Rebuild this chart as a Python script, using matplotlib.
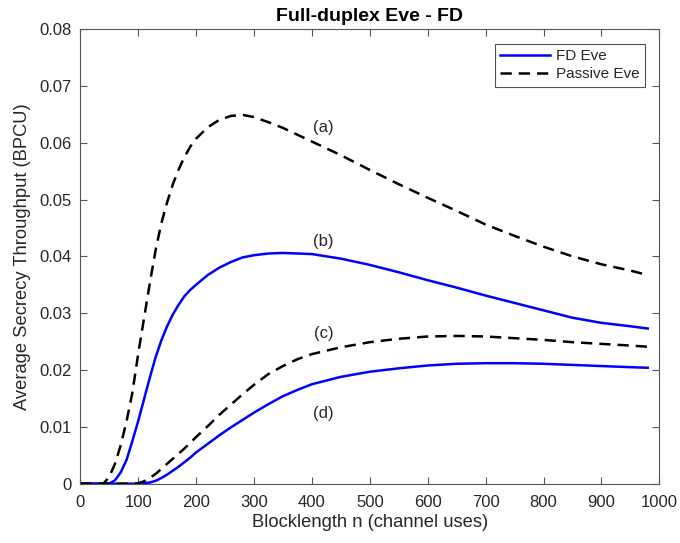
import matplotlib
matplotlib.use("Agg")
import matplotlib.pyplot as plt

plt.rcParams['font.family'] = ['Liberation Sans', 'DejaVu Sans']

# Blocklength samples (channel uses)
n = [0, 20, 40,
     50, 60, 70, 80, 90, 100, 110, 120, 130, 140, 150, 160, 170, 180, 190, 200,
     220, 240, 260, 280, 300,
     325, 350, 375, 400,
     450, 500, 550, 600, 650, 700, 750, 800, 850, 900, 950,
     980]

# (a) Passive Eve, upper case
passive_a = [0, 0, 0,
             0.0012, 0.0035, 0.0068, 0.011, 0.016, 0.0228, 0.029, 0.0352,
             0.041, 0.0458, 0.0495, 0.0527, 0.0553, 0.0575, 0.0593, 0.0607,
             0.0627, 0.064, 0.0647, 0.0649, 0.0645,
             0.0636, 0.0626, 0.0614, 0.0602,
             0.0578, 0.0552, 0.0527, 0.0503, 0.048, 0.0456, 0.0436, 0.0417,
             0.04, 0.0386, 0.0375,
             0.0367]
# (b) FD Eve, upper case
fd_b = [0, 0, 0,
        0, 0.0006, 0.002, 0.0042, 0.0075, 0.011, 0.0148, 0.0186, 0.0222,
        0.0252, 0.0277, 0.0298, 0.0315, 0.033, 0.0341, 0.035,
        0.0367, 0.038, 0.039, 0.0398, 0.0402,
        0.0405, 0.0406, 0.0405, 0.0404,
        0.0396, 0.0385, 0.0372, 0.0358, 0.0345, 0.0331, 0.0318, 0.0305,
        0.0292, 0.0283, 0.0277,
        0.0273]
# (c) Passive Eve, lower case
passive_c = [0, 0, 0,
             0, 0, 0, 0, 0, 0.0001, 0.0004, 0.001, 0.0017, 0.0026, 0.0035,
             0.0044, 0.0053, 0.0062, 0.0072, 0.0082,
             0.0101, 0.0121, 0.0139, 0.0157, 0.0174,
             0.0193, 0.0207, 0.0219, 0.0228,
             0.024, 0.0249, 0.0255, 0.0259, 0.026, 0.0259, 0.0256, 0.0253,
             0.0249, 0.0246, 0.0243,
             0.0241]
# (d) FD Eve, lower case
fd_d = [0, 0, 0,
        0, 0, 0, 0, 0, 0, 0.0001, 0.0002, 0.0005, 0.001, 0.0016, 0.0023,
        0.003, 0.0038, 0.0046, 0.0055,
        0.007, 0.0085, 0.0099, 0.0112, 0.0125,
        0.014, 0.0154, 0.0165, 0.0175,
        0.0188, 0.0197, 0.0203, 0.0208, 0.0211, 0.0212, 0.0212, 0.0211,
        0.0209, 0.0207, 0.0205,
        0.0204]

curve_labels = ['(a)', '(b)', '(c)', '(d)']
label_pos = [(420, 0.0626), (420, 0.0426), (420, 0.0265), (420, 0.0124)]

fig = plt.figure(figsize=(6.8, 5.43), dpi=100)
ax = fig.add_axes([0.118, 0.1092, 0.8516, 0.8374])

lw = 1.8
blue = (0, 0, 1)
fd1, = ax.plot(n, fd_b, color=blue, lw=lw, label='FD Eve')
pe1, = ax.plot(n, passive_a, color='black', lw=lw, dashes=(4.5, 2.8),
               label='Passive Eve')
ax.plot(n, fd_d, color=blue, lw=lw)
ax.plot(n, passive_c, color='black', lw=lw, dashes=(4.5, 2.8))

edge = '#262626'
for txt, (x, y) in zip(curve_labels, label_pos):
    ax.text(x, y, txt, ha='center', va='center', fontsize=12, color=edge)

ax.set_xlim(0, 1000)
ax.set_ylim(0, 0.08)
ax.set_xticks(range(0, 1001, 100))
ax.set_yticks([i / 100 for i in range(0, 9)])
ax.set_yticklabels(['0'] + ['%.2f' % (i / 100) for i in range(1, 9)])

for s in ax.spines.values():
    s.set_color('#555555')
    s.set_linewidth(0.8)
ax.tick_params(direction='in', length=5, width=0.8, colors='#555555',
               labelcolor=edge, labelsize=12, top=True, right=True)
ax.tick_params(axis='x', pad=8)
ax.tick_params(axis='y', pad=6)

ax.set_xlabel('Blocklength n (channel uses)', fontsize=13.2, color=edge,
              labelpad=3)
ax.set_ylabel('Average Secrecy Throughput (BPCU)', fontsize=13.2, color=edge,
              labelpad=6)
ax.set_title('Full-duplex Eve - FD', fontsize=14, fontweight='bold',
             color='black', pad=6)

leg = ax.legend(handles=[fd1, pe1], loc='upper right', fontsize=11,
                frameon=True, fancybox=False, edgecolor='#262626',
                handlelength=3.3, borderaxespad=0.95, labelspacing=0.3,
                handletextpad=0.35, borderpad=0.35)
leg.get_frame().set_linewidth(0.8)
for t in leg.get_texts():
    t.set_color(edge)

fig.savefig('out.png', dpi=100)
